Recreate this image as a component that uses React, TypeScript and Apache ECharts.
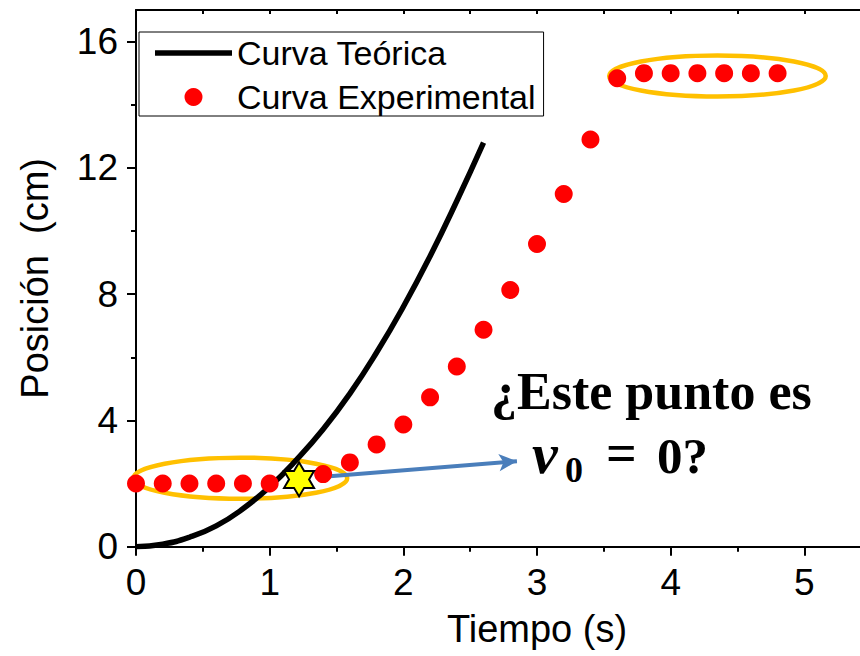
import React, { useEffect, useRef } from "react";
import * as echarts from "echarts";

// Theoretical curve
const theoryT = [0, 0.2, 0.4, 0.6, 0.8, 1.0, 1.2, 1.4, 1.6, 1.8, 2.0, 2.2, 2.4, 2.6];
const theoryY = [0, 0.08, 0.3, 0.66, 1.2, 1.9, 2.75, 3.72, 4.85, 6.15, 7.6, 9.2, 10.95, 12.8];

// Experimental points
const expT = [0, 0.2, 0.4, 0.6, 0.8, 1.0, 1.4, 1.6, 1.8, 2.0, 2.2, 2.4, 2.6, 2.8, 3.0, 3.2, 3.4, 3.6, 3.8, 4.0, 4.2, 4.4, 4.6, 4.8];
const expY = [2.0, 2.0, 2.0, 2.0, 2.0, 2.0, 2.3, 2.67, 3.24, 3.87, 4.73, 5.71, 6.87, 8.13, 9.59, 11.17, 12.9, 14.84, 15.0, 15.0, 15.0, 15.0, 15.0, 15.0];

// Highlighted point (star)
const starPoint = [1.22, 2.13];

// Annotation ellipses: [centerT, centerY, radiusT, radiusY] in data units
const ellipses = [
  [0.78, 2.17, 0.8, 0.65],
  [4.35, 14.91, 0.81, 0.65],
];

// Arrow from / to (data units)
const arrowFrom = [1.45, 2.23];
const arrowTo = [2.85, 2.71];

// Axis ticks / labels
const xLabels = [0, 1, 2, 3, 4, 5];
const yMajorTicks = [0, 4, 8, 12, 16];
const yMinorTicks = [2, 6, 10, 14];

const FONT = "'Liberation Sans', Arial, sans-serif";
const SERIF = "'Liberation Serif', 'Times New Roman', serif";

const starPath =
  "path://M50,0L64.43,25L93.3,25L78.87,50L93.3,75L64.43,75L50,100L35.57,75L6.7,75L21.13,50L6.7,25L35.57,25Z";

export default function App() {
  const ref = useRef<HTMLDivElement>(null);

  useEffect(() => {
    if (!ref.current) return;
    const chart = echarts.init(ref.current, undefined, { renderer: "svg" });

    const axisLine = { show: true, onZero: false, lineStyle: { color: "#000", width: 2 } };

    chart.setOption({
      animation: false,
      backgroundColor: "#fff",
      grid: {
        left: 136,
        top: 10,
        width: 802,
        height: 536.7,
        containLabel: false,
        outerBoundsMode: "none",
      },
      legend: {
        orient: "vertical",
        left: 139,
        top: 32,
        padding: [4, 8, 2, 16],
        itemWidth: 77,
        itemHeight: 18,
        itemGap: 10,
        borderColor: "#000",
        borderWidth: 1,
        backgroundColor: "#fff",
        textStyle: { fontSize: 34, fontFamily: FONT, color: "#000" },
        data: [
          { name: "Curva Teórica", icon: "path://M0,0H77V5.5H0Z", itemStyle: { color: "#000" } },
          { name: "Curva Experimental", icon: "circle", itemStyle: { color: "#FF0000", opacity: 1 } },
        ],
      },
      xAxis: [
        {
          type: "value",
          min: 0,
          max: 6,
          interval: 1,
          position: "bottom",
          name: "Tiempo (s)",
          nameLocation: "middle",
          nameGap: 63,
          nameTextStyle: { fontSize: 38, fontFamily: FONT, color: "#000" },
          axisLine,
          axisTick: { show: true, length: 9, lineStyle: { color: "#000", width: 2 } },
          minorTick: { show: true, splitNumber: 2, length: 5, lineStyle: { color: "#000", width: 2 } },
          axisLabel: { fontSize: 37, fontFamily: FONT, color: "#000", margin: 17, customValues: xLabels },
          splitLine: { show: false },
          minorSplitLine: { show: false },
        },
        {
          type: "value",
          min: 0,
          max: 6,
          interval: 0.5,
          position: "top",
          axisLine,
          axisTick: { show: true, inside: true, length: 4, lineStyle: { color: "#000", width: 2 } },
          axisLabel: { show: false },
          splitLine: { show: false },
        },
      ],
      yAxis: [
        {
          type: "value",
          min: 0,
          max: 17,
          position: "left",
          name: "Posición  (cm)",
          nameLocation: "middle",
          nameGap: 82,
          nameTextStyle: { fontSize: 38, fontFamily: FONT, color: "#000" },
          axisLine,
          axisTick: { show: true, length: 9, customValues: yMajorTicks, lineStyle: { color: "#000", width: 2 } },
          axisLabel: { fontSize: 37, fontFamily: FONT, color: "#000", margin: 18, customValues: yMajorTicks },
          splitLine: { show: false },
        },
        {
          type: "value",
          min: 0,
          max: 17,
          position: "left",
          axisLine: { show: false },
          axisTick: { show: true, length: 5, customValues: yMinorTicks, lineStyle: { color: "#000", width: 2 } },
          axisLabel: { show: false },
          splitLine: { show: false },
        },
      ],
      series: [
        {
          type: "custom",
          name: "ellipses",
          z: 1,
          silent: true,
          clip: false,
          renderItem: (params: any, api: any) => {
            const c = api.coord([api.value(0), api.value(1)]);
            const s = api.size([api.value(2), api.value(3)]);
            return {
              type: "ellipse",
              shape: { cx: c[0], cy: c[1], rx: s[0], ry: s[1] },
              style: { fill: "none", stroke: "#FFC000", lineWidth: 4.5 },
            };
          },
          data: ellipses,
        },
        {
          type: "line",
          name: "Curva Teórica",
          z: 2,
          smooth: true,
          showSymbol: false,
          symbol: "none",
          lineStyle: { color: "#000", width: 5.5 },
          itemStyle: { color: "#000" },
          data: theoryT.map((t, i) => [t, theoryY[i]]),
          markLine: {
            z: 2,
            silent: true,
            animation: false,
            symbol: ["none", "arrow"],
            symbolSize: [13, 18],
            label: { show: false },
            lineStyle: { color: "#4A7EBB", width: 4, type: "solid" },
            emphasis: { disabled: true },
            data: [[{ coord: arrowFrom }, { coord: arrowTo }]],
          },
        },
        {
          type: "scatter",
          name: "Curva Experimental",
          z: 3,
          clip: false,
          symbol: "circle",
          symbolSize: 18,
          itemStyle: { color: "#FF0000", opacity: 1 },
          data: expT.map((t, i) => [t, expY[i]]),
        },
        {
          type: "scatter",
          name: "star",
          z: 4,
          clip: false,
          symbol: starPath,
          symbolSize: [30, 34],
          itemStyle: { color: "#FFFF00", borderColor: "#000", borderWidth: 2, opacity: 1 },
          data: [starPoint],
        },
      ],
      graphic: [
        {
          type: "text",
          x: 491,
          y: 391,
          z: 10,
          style: { text: "¿Este punto es", font: `bold 52px ${SERIF}`, fill: "#000", align: "left", verticalAlign: "middle" },
        },
        {
          type: "text",
          x: 532,
          y: 453,
          z: 10,
          style: { text: "v", font: `italic bold 58px ${SERIF}`, fill: "#000", align: "left", verticalAlign: "middle" },
        },
        {
          type: "text",
          x: 565,
          y: 470,
          z: 10,
          style: { text: "0", font: `bold 36px ${SERIF}`, fill: "#000", align: "left", verticalAlign: "middle" },
        },
        {
          type: "text",
          x: 606,
          y: 453,
          z: 10,
          style: { text: "=", font: `bold 54px ${SERIF}`, fill: "#000", align: "left", verticalAlign: "middle" },
        },
        {
          type: "text",
          x: 657,
          y: 456,
          z: 10,
          style: { text: "0?", font: `bold 51px ${SERIF}`, fill: "#000", align: "left", verticalAlign: "middle" },
        },
      ],
    });

    return () => chart.dispose();
  }, []);

  return (
    <div
      ref={ref}
      style={{ position: "fixed", left: 0, top: 0, width: 860, height: 656, background: "#fff" }}
    />
  );
}
